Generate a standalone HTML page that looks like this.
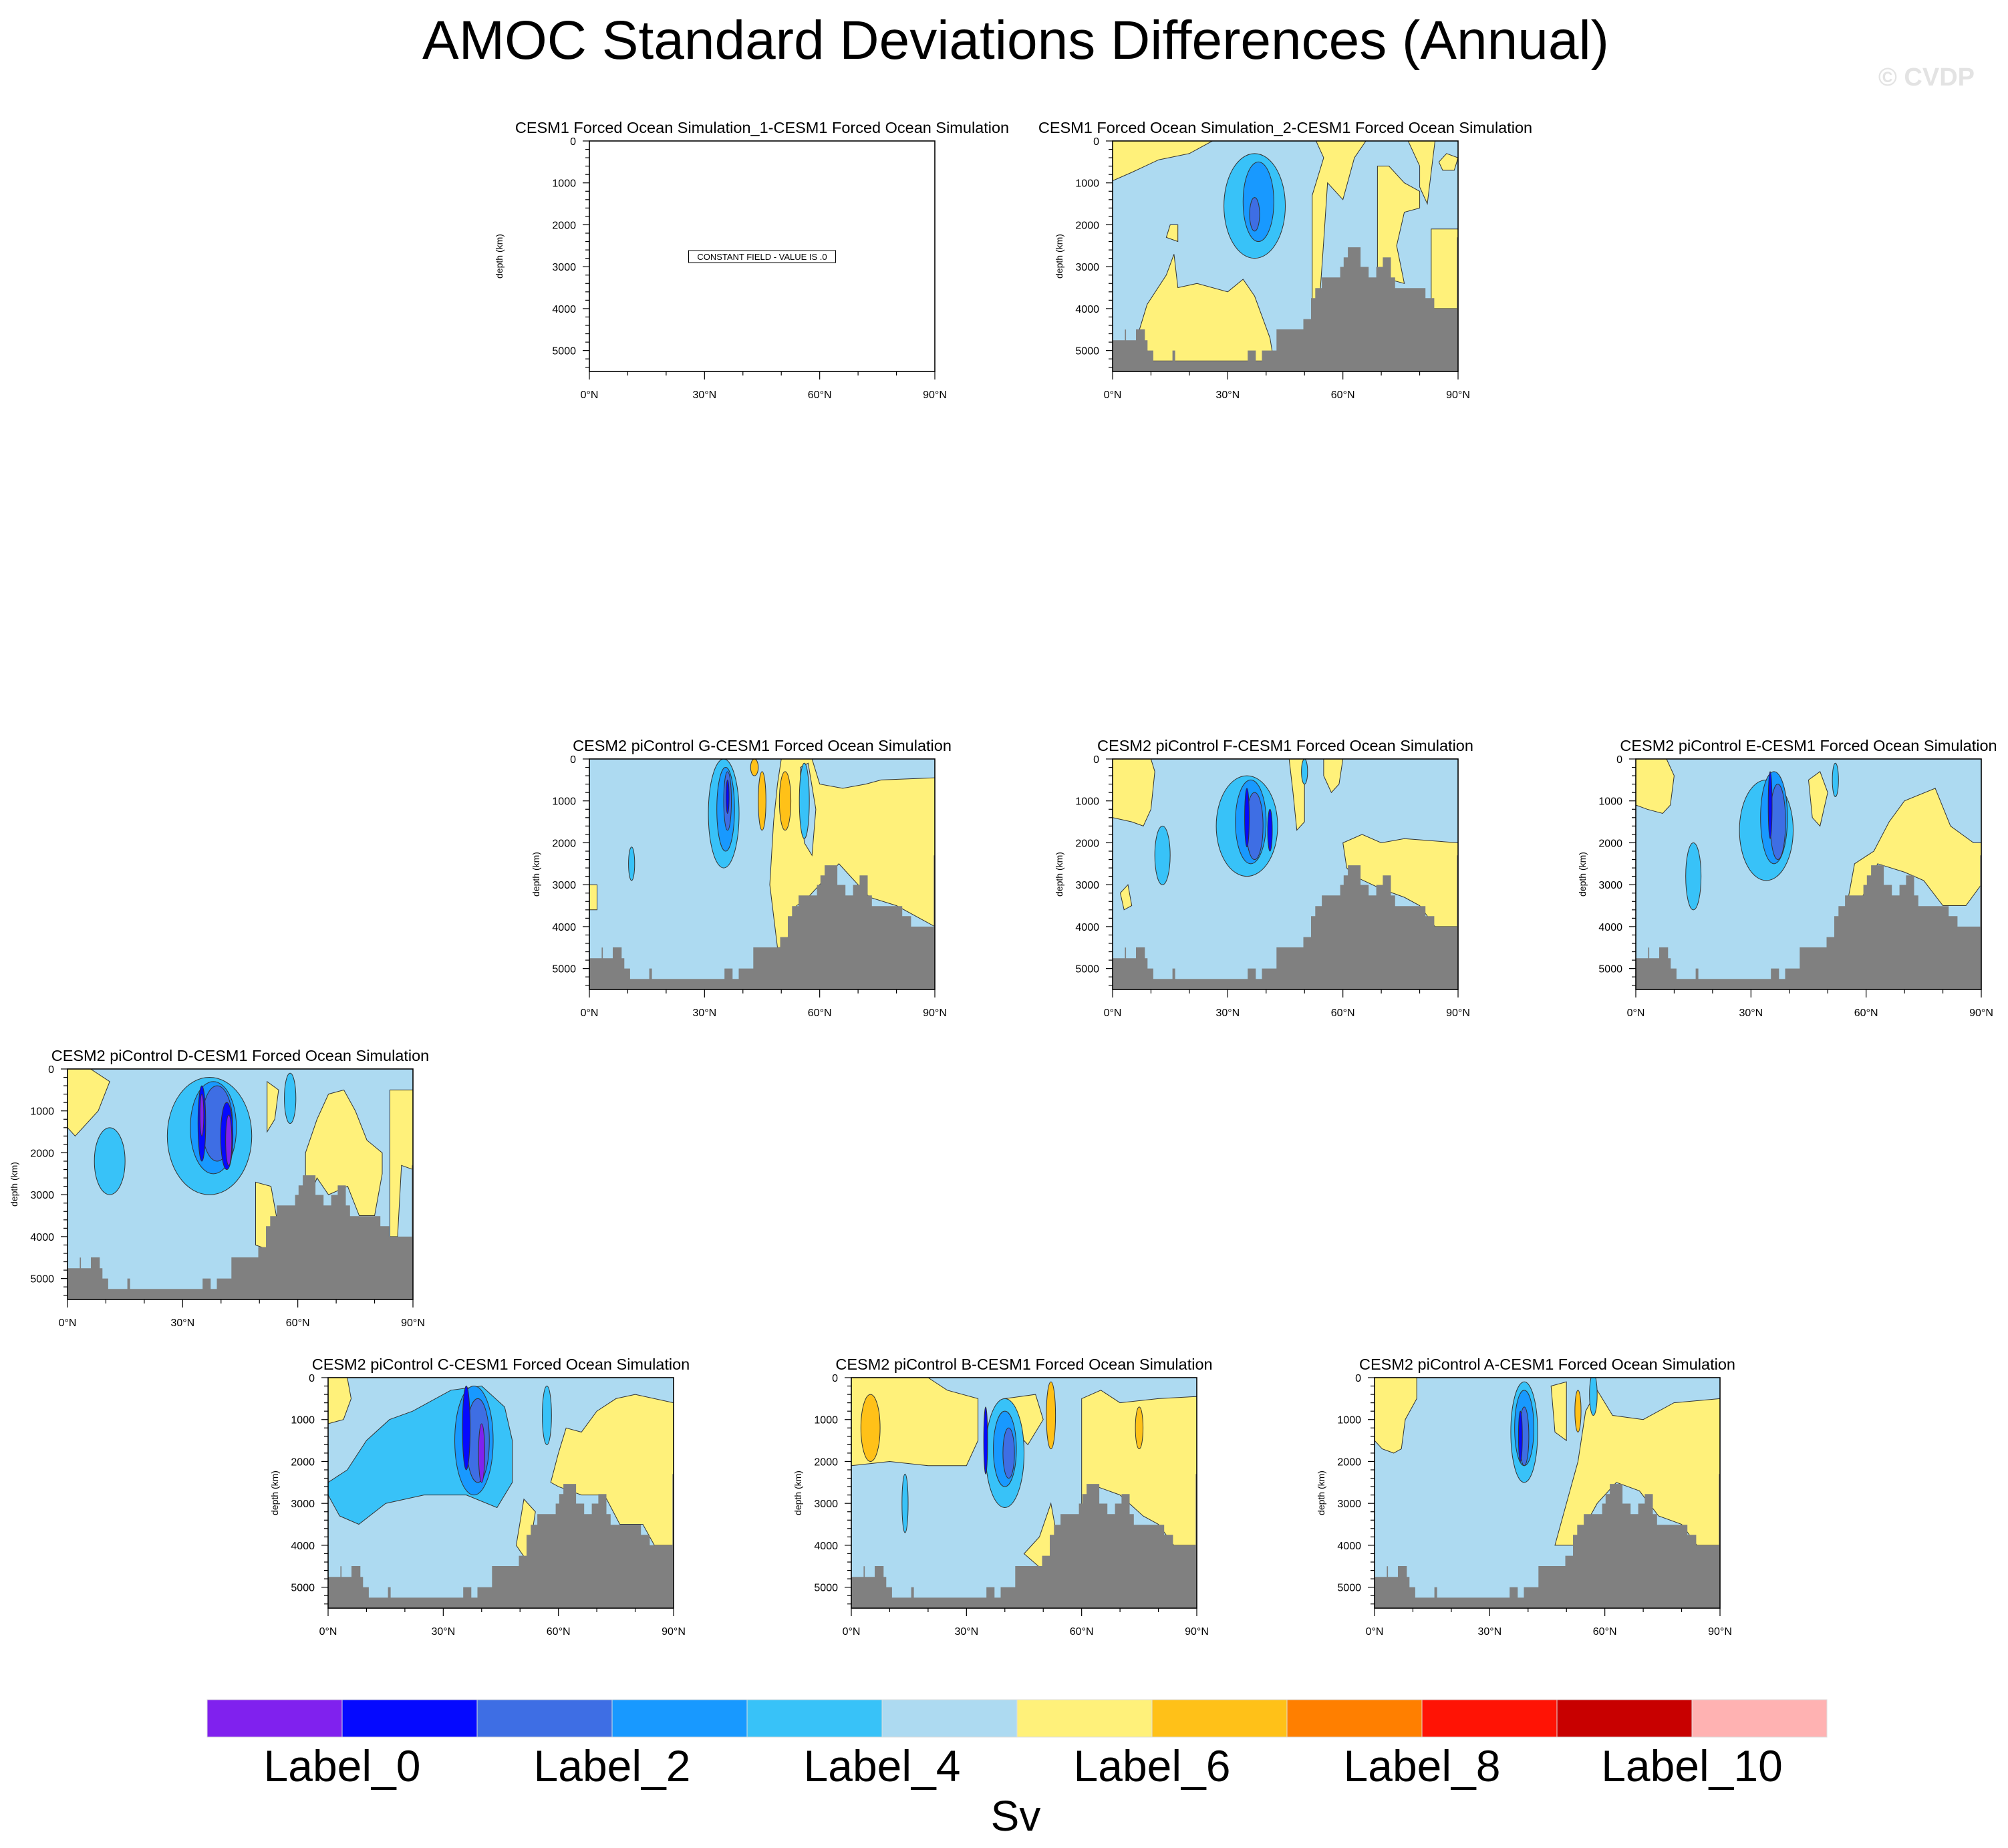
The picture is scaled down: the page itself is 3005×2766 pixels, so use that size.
<!DOCTYPE html>
<html><head><meta charset="utf-8"><title>AMOC Standard Deviations Differences (Annual)</title>
<style>
html,body{margin:0;padding:0;background:#fff;}
svg{display:block;font-family:"Liberation Sans",sans-serif;}
</style></head>
<body>
<svg id="chart" width="3005" height="2766" viewBox="0 0 3005 2766" xmlns="http://www.w3.org/2000/svg">
<text x="1520" y="88" font-size="82" text-anchor="middle" fill="#000">AMOC Standard Deviations Differences (Annual)</text>
<text x="2955" y="128" font-size="38" font-weight="bold" text-anchor="end" fill="#e3e3e3">© CVDP</text>
<g id="panels"></g>
<g id="colorbar"></g>
<text x="1520" y="2740" font-size="64" text-anchor="middle" fill="#000">Sv</text>
</svg>
<script>
// ---- data ----
const levelColors = ['#8021EE','#0509FF','#3E6EE4','#1899FF','#38C2F8','#ADDAF1','#FFF17A','#FFC118','#FF7F00','#FF1305','#C80000','#FFB2B2'];
const cbarLabels = ['Label_0','Label_2','Label_4','Label_6','Label_8','Label_10'];
const bathyLat =   [0,3.2,3.5,6.1,8.4,9.1,10.6,15.6,16.3,35.2,37.3,38.9,42.7,49.7,51.7,52.8,54.5,59.3,60.2,61.3,64.6,66.7,68.7,70.4,72.5,73.6,81.5,83.8,89.7,90];
const bathyDepth = [4755,4500,4755,4495,4755,5000,5250,5000,5250,5000,5250,5000,4495,4250,3750,3510,3255,3005,2777,2537,3005,3255,3005,2777,3255,3510,3750,4000,2300];
const yTicks = [0,1000,2000,3000,4000,5000];
const xTicks = [0,30,60,90];
const xTickLabels = ['0°N','30°N','60°N','90°N'];

const W = 517, H = 345;
const panelDefs = [
 {name:'panel-f1-1', title:'CESM1 Forced Ocean Simulation_1-CESM1 Forced Ocean Simulation', left:882, top:211, constant:true, ylOff:130},
 {name:'panel-f1-2', title:'CESM1 Forced Ocean Simulation_2-CESM1 Forced Ocean Simulation', left:1665, top:211,
  polys:[[6,[[0,0],[26,0],[20,300],[12,450],[5,750],[0,950]]],
         [6,[[7,4500],[9,3900],[14,3200],[16,2700],[17,3500],[22,3400],[30,3600],[34,3300],[37,3700],[41,4700],[42,5250],[10,5250]]],
         [6,[[52,3900],[52,1300],[55,400],[53,0],[66,0],[63,400],[60,1400],[56,1000],[55,2400],[54,3700]]],
         [6,[[69,3300],[69,600],[72,600],[76,1000],[80,1200],[80,1600],[76,1700],[74,2500],[76,3400],[72,3300]]],
         [6,[[83,4000],[83,2100],[90,2100],[90,4000]]],
         [6,[[77,0],[84,0],[82,1500],[80,1100],[80,600]]],
         [6,[[14,2300],[15,2000],[17,2000],[17,2400]]],
         [6,[[85,500],[87,300],[90,400],[89,700],[86,700]]]],
  blobs:[[37,1550,8,1250,4],[38,1450,4,950,3],[37,1750,1.3,400,2]]},
 {name:'panel-g', title:'CESM2 piControl G-CESM1 Forced Ocean Simulation', left:882, top:1136,
  polys:[[6,[[50,0],[58,0],[60,600],[66,700],[72,600],[76,500],[90,450],[90,4000],[80,3500],[73,3300],[65,2500],[57,3300],[54,3500],[51,4500],[49,4500],[47,3000],[48,1500],[49,600]]],
         [5,[[55,200],[57,100],[59,1200],[58,2300],[56,2000],[55,900]]],
         [6,[[0,3000],[2,3000],[2,3600],[0,3600]]]],
  blobs:[[35,1300,4,1300,4],[35.5,1200,2.3,1000,3],[36,1000,1,700,2],[36,900,0.4,400,1],[45,1000,1,700,7],[51,1000,1.5,700,7],[43,200,1,200,7],[56,1000,1.3,900,4],[11,2500,0.8,400,4]]},
 {name:'panel-f', title:'CESM2 piControl F-CESM1 Forced Ocean Simulation', left:1665, top:1136,
  polys:[[6,[[0,0],[10,0],[11,300],[10,1200],[8,1600],[5,1500],[0,1400]]],
         [6,[[60,2000],[65,1800],[70,2000],[76,1900],[90,2000],[90,4000],[84,4000],[80,3500],[76,3300],[70,3100],[63,2800],[61,2600]]],
         [6,[[46,0],[50,0],[50,1500],[48,1700],[47,800]]],
         [6,[[55,0],[60,0],[59,600],[57,800],[55,400]]],
         [6,[[2,3200],[4,3000],[5,3500],[3,3600]]]],
  blobs:[[35,1600,8,1200,4],[36,1500,4,1000,3],[37,1600,2.2,800,2],[35,1400,0.6,700,1],[41,1700,0.6,500,1],[13,2300,2,700,4],[50,300,0.8,300,4]]},
 {name:'panel-e', title:'CESM2 piControl E-CESM1 Forced Ocean Simulation', left:2448, top:1136,
  polys:[[6,[[0,0],[8,0],[10,400],[9,1100],[7,1300],[3,1200],[0,1100]]],
         [6,[[55,3500],[57,2500],[62,2200],[66,1500],[70,1000],[78,700],[82,1600],[88,2000],[90,2000],[90,3000],[86,3500],[80,3500],[75,2900],[70,2700],[63,2500],[58,3500]]],
         [6,[[45,500],[48,300],[50,800],[48,1600],[46,1400]]]],
  blobs:[[34,1700,7,1200,4],[36,1400,3.5,1100,3],[37,1500,2,900,2],[35,1100,0.5,800,1],[15,2800,2,800,4],[52,500,0.8,400,4]]},
 {name:'panel-d', title:'CESM2 piControl D-CESM1 Forced Ocean Simulation', left:101, top:1600,
  polys:[[6,[[0,0],[6,0],[11,300],[8,1000],[2,1600],[0,1400]]],
         [6,[[62,3300],[62,2000],[65,1200],[68,600],[72,500],[75,1000],[78,1700],[82,2000],[82,2500],[80,3500],[76,3500],[73,2800],[68,3000],[65,2600]]],
         [6,[[84,4000],[84,500],[90,500],[90,2400],[87,2300],[86,4000]]],
         [6,[[49,4200],[49,2700],[53,2800],[55,3800],[52,4300]]],
         [6,[[52,1500],[52,300],[55,500],[54,1200]]]],
  blobs:[[37,1600,11,1400,4],[11,2200,4,800,4],[38,1400,6,1100,3],[39,1300,4,900,2],[35,1300,1,900,1],[41.5,1600,1.6,800,1],[35,1100,0.5,500,0],[42,1700,0.8,600,0],[58,700,1.5,600,4]]},
 {name:'panel-c', title:'CESM2 piControl C-CESM1 Forced Ocean Simulation', left:491, top:2062,
  polys:[[6,[[0,0],[5,0],[6,500],[4,1000],[0,1100]]],
         [4,[[0,2500],[5,2200],[10,1500],[16,1000],[22,800],[32,300],[40,200],[46,700],[48,1500],[48,2500],[44,3100],[36,2800],[25,2800],[15,3000],[8,3500],[3,3300],[0,2800]]],
         [6,[[58,2500],[60,1800],[62,1200],[66,1300],[70,800],[75,500],[80,400],[90,600],[90,4000],[85,4000],[82,3500],[76,3500],[72,2800],[66,2800],[60,2600]]],
         [6,[[49,4000],[51,2900],[54,3200],[52,4400]]]],
  blobs:[[38,1500,5,1300,3],[39,1500,3,1000,2],[36,1200,1,1000,1],[40,1800,0.8,700,0],[57,900,1.2,700,4]]},
 {name:'panel-b', title:'CESM2 piControl B-CESM1 Forced Ocean Simulation', left:1274, top:2062,
  polys:[[6,[[0,0],[20,0],[25,300],[33,500],[33,1500],[30,2100],[20,2100],[10,2000],[0,2100]]],
         [6,[[60,3500],[60,500],[65,300],[70,600],[80,500],[90,450],[90,4000],[84,4000],[80,3500],[76,3300],[70,2800],[64,2600]]],
         [6,[[40,500],[48,400],[50,1000],[46,1600],[42,1200]]],
         [6,[[45,4200],[49,3800],[52,3000],[54,4000],[50,4600]]]],
  blobs:[[5,1200,2.5,800,7],[40,1800,5,1300,4],[40,1700,3,900,3],[41,1800,1.5,600,2],[35,1500,0.5,800,1],[52,900,1.2,800,7],[75,1200,1,500,7],[14,3000,0.8,700,4]]},
 {name:'panel-a', title:'CESM2 piControl A-CESM1 Forced Ocean Simulation', left:2057, top:2062,
  polys:[[6,[[0,0],[11,0],[11,500],[8,1000],[7,1700],[5,1800],[2,1700],[0,1500]]],
         [6,[[47,4000],[50,3000],[53,2000],[55,800],[58,300],[62,900],[70,1000],[78,600],[90,500],[90,4000],[84,4000],[80,3500],[74,3300],[69,2700],[63,2500],[58,3000],[52,4000]]],
         [6,[[46,200],[50,100],[50,1500],[47,1300]]]],
  blobs:[[39,1300,3.5,1200,4],[39,1200,2.5,900,3],[39,1400,1.2,700,2],[38,1400,0.5,600,1],[53,800,0.8,500,7],[57,400,1,500,4]]}
];

// ---- drawing ----
const NS='http://www.w3.org/2000/svg';
function mk(tag, attrs, parent){const e=document.createElementNS(NS,tag);for(const k in attrs)e.setAttribute(k,attrs[k]);parent.appendChild(e);return e;}
const root=document.getElementById('panels');

panelDefs.forEach(p=>{
  const xs = lat => p.left + lat/90*W;
  const ys = d => p.top + d/5500*H;
  const g = mk('g',{},root);
  
  
  const clipId='clip-'+p.name;
  const cp=mk('clipPath',{id:clipId},g); mk('rect',{x:p.left,y:p.top,width:W,height:H},cp);
  const t=mk('text',{x:p.left+W/2,y:p.top-12,'font-size':23.5,'text-anchor':'middle',fill:'#000'},g);
  t.textContent=p.title;
  
  
  const field=mk('g',{'clip-path':'url(#'+clipId+')'},g);
  
  
  if(p.constant){
    mk('rect',{x:p.left,y:p.top,width:W,height:H,fill:'#fff'},field);
    const bx=p.left+W/2, by=p.top+173;
    const box=mk('rect',{x:bx-110,y:by-9,width:220,height:18,fill:'#fff',stroke:'#000','stroke-width':1},g);
    
    
    const ct=mk('text',{x:bx,y:by+5,'font-size':13,'text-anchor':'middle',fill:'#000'},g);
    ct.textContent='CONSTANT FIELD - VALUE IS .0';
    
    
  } else {
    mk('rect',{x:p.left,y:p.top,width:W,height:H,fill:levelColors[5]},field);
    const items=[];
    p.polys.forEach(q=>items.push({c:q[0],poly:q[1]}));
    p.blobs.forEach(b=>items.push({c:b[4],blob:b}));
    const rank=c=>{const sz={6:0,4:1,7:2,3:3,2:4,1:5,0:6};return sz[c]??0;};
    items.sort((a,b)=>rank(a.c)-rank(b.c));
    items.forEach(it=>{
      let e;
      if(it.poly){
        e=mk('polygon',{points:it.poly.map(pt=>xs(pt[0]).toFixed(1)+','+ys(pt[1]).toFixed(1)).join(' '),fill:levelColors[it.c],stroke:'#333','stroke-width':1},field);
        
      } else {
        const b=it.blob;
        e=mk('ellipse',{cx:xs(b[0]),cy:ys(b[1]),rx:b[2]/90*W,ry:b[3]/5500*H,fill:levelColors[it.c],stroke:'#333','stroke-width':1},field);
        
      }
      
    });
    let pts=[[xs(0),ys(5500)]];
    for(let i=0;i<bathyDepth.length;i++){
      pts.push([xs(bathyLat[i]),ys(bathyDepth[i])]);
      pts.push([xs(bathyLat[i+1]),ys(bathyDepth[i])]);
    }
    pts.push([xs(90),ys(5500)]);
    const bp=mk('polygon',{points:pts.map(q=>q[0].toFixed(1)+','+q[1].toFixed(1)).join(' '),fill:'#808080'},field);
    
    
  }
  const fr=mk('rect',{x:p.left,y:p.top,width:W,height:H,fill:'none',stroke:'#000','stroke-width':1.6},g);
  
  
  for(let d=0; d<=5400; d+=200){
    const major=d%1000===0;
    mk('line',{x1:p.left,x2:p.left-(major?10:6),y1:ys(d),y2:ys(d),stroke:'#000','stroke-width':1.2},g);
  }
  yTicks.forEach(v=>{
    const tl=mk('text',{x:p.left-20,y:ys(v)+6,'font-size':16,'text-anchor':'end',fill:'#000'},g);
    tl.textContent=String(v);
    
    
  });
  for(let l=0;l<=90;l+=10){
    const major=l%30===0;
    mk('line',{x1:xs(l),x2:xs(l),y1:p.top+H,y2:p.top+H+(major?12:6),stroke:'#000','stroke-width':1.2},g);
  }
  xTicks.forEach((v,i)=>{
    const tl=mk('text',{x:xs(v),y:p.top+H+40,'font-size':16,'text-anchor':'middle',fill:'#000'},g);
    tl.textContent=xTickLabels[i];
    
    
  });
  const off=p.ylOff||75;
  const yl=mk('text',{x:0,y:0,'font-size':14,'text-anchor':'middle',fill:'#000',transform:'translate('+(p.left-off)+','+(p.top+H/2)+') rotate(-90)'},g);
  yl.textContent='depth (km)';
  
  
});

const cb=document.getElementById('colorbar');
const cbL=310, cbT=2544, cbW=202, cbH=56;
levelColors.forEach((c,i)=>{
  const r=mk('rect',{x:cbL+i*cbW,y:cbT,width:cbW,height:cbH,fill:c,stroke:'#ddd','stroke-width':1},cb);
  
  
});
cbarLabels.forEach((s,i)=>{
  const t=mk('text',{x:cbL+(2*i+1)*cbW,y:2666,'font-size':66,'text-anchor':'middle',fill:'#000'},cb);
  t.textContent=s;
  
  
});
</script>
</body></html>
